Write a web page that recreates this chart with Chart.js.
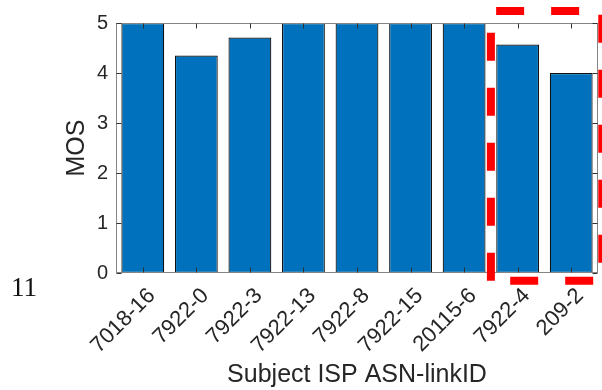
<!DOCTYPE html>
<html>
<head>
<meta charset="utf-8">
<script src="https://cdn.jsdelivr.net/npm/chart.js@4/dist/chart.umd.min.js"></script>
<style>
  html, body { margin: 0; padding: 0; background: #ffffff; }
  #wrap { width: 602px; height: 390px; }
</style>
</head>
<body>
<div id="wrap"><canvas id="chart" width="602" height="390"></canvas></div>
<script>
// Mean opinion score per subject link (ISP ASN - link ID)
const categories = ['7018-16', '7922-0', '7922-3', '7922-13', '7922-8', '7922-15', '20115-6', '7922-4', '209-2'];
const mosValues = [5.0, 4.35, 4.71, 5.0, 5.0, 5.0, 5.0, 4.57, 4.0];
const yTickValues = [0, 1, 2, 3, 4, 5];
const panelLabel = '11';

// Highlighted group: the last two links (index range in category units, score range)
const highlightX = [6.5, 8.58];
const highlightY = [-0.155, 5.24];

const FONT = 'Liberation Sans';
const TEXT_COLOR = '#262626';
const BOX_COLOR = '#858585';
const TICK_COLOR = '#333333';

// Boxed axes with inward tick marks on all four sides
const boxAxesPlugin = {
  id: 'boxAxes',
  afterDatasetsDraw(chart) {
    const { ctx, chartArea: a, scales } = chart;
    const x = scales.x, y = scales.y;
    const L = Math.round(a.left) + 0.5, R = Math.round(a.right) - 0.5;
    const T = Math.round(a.top) + 0.5, B = Math.round(a.bottom) - 0.5;
    ctx.save();
    ctx.lineWidth = 1;
    ctx.strokeStyle = BOX_COLOR;
    ctx.strokeRect(L, T, R - L, B - T);
    ctx.strokeStyle = TICK_COLOR;
    ctx.beginPath();
    const tl = 5;
    categories.forEach((c, i) => {
      const px = Math.round(x.getPixelForValue(i)) + 0.5;
      ctx.moveTo(px, B); ctx.lineTo(px, B - tl);
      ctx.moveTo(px, T); ctx.lineTo(px, T + tl);
    });
    yTickValues.forEach(v => {
      const py = Math.round(y.getPixelForValue(v)) + 0.5;
      ctx.moveTo(L, py); ctx.lineTo(L + tl, py);
      ctx.moveTo(R, py); ctx.lineTo(R - tl, py);
    });
    ctx.stroke();
    ctx.restore();
  },
  afterDraw(chart) {
    const { ctx, scales } = chart;
    const x = scales.x, y = scales.y;
    // dashed red frame around the highlighted links
    const x0 = x.getPixelForValue(highlightX[0]);
    const x1 = x.getPixelForValue(highlightX[1]);
    const y0 = y.getPixelForValue(highlightY[0]);
    const y1 = y.getPixelForValue(highlightY[1]);
    ctx.save();
    ctx.strokeStyle = '#ff0000';
    ctx.lineWidth = 8;
    ctx.lineCap = 'butt';
    ctx.setLineDash([28, 27]);
    ctx.beginPath();
    ctx.moveTo(x0, y0);
    ctx.lineTo(x0, y1);
    ctx.lineTo(x1, y1);
    ctx.lineTo(x1, y0);
    ctx.closePath();
    ctx.stroke();
    ctx.restore();
    // panel number
    ctx.save();
    ctx.fillStyle = '#111111';
    ctx.font = '27px "Liberation Serif"';
    ctx.textBaseline = 'alphabetic';
    ctx.textAlign = 'left';
    ctx.fillText(panelLabel, 11, 296);
    ctx.restore();
  }
};

new Chart(document.getElementById('chart'), {
  type: 'bar',
  data: {
    labels: categories,
    datasets: [{
      data: mosValues,
      backgroundColor: '#0072BD',
      borderColor: '#111111',
      borderWidth: 1.2,
      borderSkipped: false,
      barPercentage: 0.8,
      categoryPercentage: 1.0
    }]
  },
  options: {
    responsive: false,
    animation: false,
    devicePixelRatio: 1,
    layout: { padding: { left: 0, top: 23, right: 4, bottom: 0 } },
    plugins: { legend: { display: false }, tooltip: { enabled: false } },
    scales: {
      x: {
        offset: true,
        grid: { display: false, drawTicks: false },
        border: { display: false },
        ticks: {
          autoSkip: false,
          minRotation: 45,
          maxRotation: 45,
          padding: 10,
          labelOffset: 9,
          color: TEXT_COLOR,
          font: { family: FONT, size: 22 }
        },
        title: {
          display: true,
          text: 'Subject ISP ASN-linkID',
          color: TEXT_COLOR,
          font: { family: FONT, size: 25 },
          padding: { top: 0, bottom: 0 }
        },
        afterFit(s) {
          s.height = 117;
          s.paddingLeft = 0; s.paddingRight = 0;
        }
      },
      y: {
        min: 0,
        max: 5,
        afterBuildTicks(s) { s.ticks = yTickValues.map(v => ({ value: v })); },
        grid: { display: false, drawTicks: false },
        border: { display: false },
        ticks: {
          padding: 8,
          color: TEXT_COLOR,
          font: { family: FONT, size: 20 }
        },
        title: {
          display: true,
          text: 'MOS',
          color: TEXT_COLOR,
          font: { family: FONT, size: 25 },
          padding: { top: 62, bottom: 0 }
        },
        afterFit(s) {
          s.width = 116;
          s.paddingTop = 0; s.paddingBottom = 0;
        }
      }
    }
  },
  plugins: [boxAxesPlugin]
});
</script>
</body>
</html>
